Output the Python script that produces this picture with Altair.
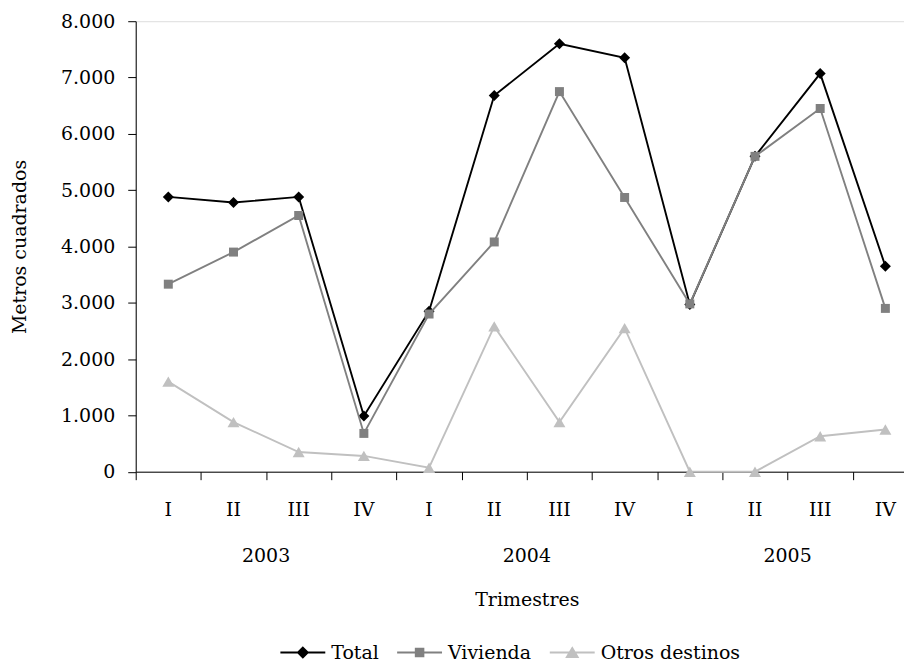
import altair as alt
import pandas as pd

# ---- data ----
years = ["2003"] * 4 + ["2004"] * 4 + ["2005"] * 4
quarters = ["I", "II", "III", "IV", "I", "II", "III", "IV", "I", "II", "III", "IV"]
total = [4880, 4780, 4880, 990, 2850, 6680, 7600, 7350, 2970, 5600, 7070, 3650]
vivienda = [3330, 3900, 4550, 680, 2800, 4080, 6750, 4870, 2980, 5600, 6450, 2900]
otros = [1600, 880, 350, 280, 70, 2580, 880, 2550, 0, 0, 630, 750]

series_names = ["Total", "Vivienda", "Otros destinos"]
series_values = [total, vivienda, otros]
series_colors = ["#000000", "#808080", "#c0c0c0"]
series_shapes = ["diamond", "square", "triangle-up"]
series_sizes = [121, 81, 144]
legend_paths = [
    "M-1,0H1M0,-0.22L0.22,0L0,0.22L-0.22,0Z",
    "M-1,0H1M-0.17,-0.17H0.17V0.17H-0.17Z",
    "M-1,0H1M0,-0.2L0.24,0.2L-0.24,0.2Z",
]

rows = []
for name, vals in zip(series_names, series_values):
    for i, v in enumerate(vals):
        rows.append({"serie": name, "i": i, "year": years[i], "quarter": quarters[i], "valor": v})
df = pd.DataFrame(rows)
cat_df = pd.DataFrame({"i": list(range(len(quarters))), "year": years, "quarter": quarters})

FONT = "DejaVu Serif"
FS = 19
W, H = 770, 451.5
BAND = 784 / 12.0
XMAX = W / BAND

x_axis = alt.Axis(
    values=list(range(12)), labels=False, grid=False, tickSize=8,
    title="Trimestres", titleX=392, titleY=128, titleAlign="center",
    titleBaseline="middle", titleAngle=0, titleFont=FONT, titleFontSize=FS,
    titleFontWeight="normal", titleColor="#000000",
    domainColor="#000000", tickColor="#000000",
)
y_axis = alt.Axis(
    values=list(range(0, 8001, 1000)), grid=False, tickSize=8, labelPadding=13,
    labelExpr="replace(format(datum.value, ','), ',', '.')",
    labelFont=FONT, labelFontSize=FS, labelColor="#000000",
    title="Metros cuadrados", titleX=-116, titleY=H / 2, titleAngle=270,
    titleAlign="center", titleBaseline="middle", titleFont=FONT, titleFontSize=FS,
    titleFontWeight="normal", titleColor="#000000",
    domainColor="#000000", tickColor="#000000",
)
x_scale = alt.Scale(domain=[0, XMAX], nice=False, zero=False)
y_scale = alt.Scale(domain=[0, 8000], nice=False)

X = alt.X("pos:Q", scale=x_scale, axis=x_axis)
Y = alt.Y("valor:Q", scale=y_scale, axis=y_axis)

base = alt.Chart(df).transform_calculate(pos="datum.i + 0.5")

layers = []
for name, color, shape, size in zip(series_names, series_colors, series_shapes, series_sizes):
    sub = base.transform_filter(alt.datum.serie == name)
    layers.append(sub.mark_line(color=color, strokeWidth=1.9).encode(x=X, y=Y))
    layers.append(
        sub.mark_point(shape=shape, filled=True, size=size, color=color, opacity=1).encode(x=X, y=Y)
    )

quarter_labels = (
    alt.Chart(cat_df)
    .transform_calculate(pos="datum.i + 0.5")
    .mark_text(font=FONT, fontSize=FS, color="#000000", baseline="middle", align="center")
    .encode(x=X, y=alt.value(489.5), text="quarter:N")
)
year_labels = (
    alt.Chart(cat_df)
    .transform_calculate(pos="datum.i + 0.5")
    .transform_aggregate(pos="mean(pos)", groupby=["year"])
    .mark_text(font=FONT, fontSize=FS, color="#000000", baseline="middle", align="center")
    .encode(x=X, y=alt.value(536.5), text="year:N")
)

leg = alt.Legend(
    orient="none", legendX=144, legendY=609, direction="horizontal", title=None,
    symbolSize=2025, symbolStrokeWidth=1.9, symbolOpacity=1,
    labelFont=FONT, labelFontSize=FS, labelColor="#000000", labelOffset=5,
    columnPadding=14, padding=0, labelLimit=0,
)
legend_layer = (
    base.transform_filter("false")
    .mark_point(filled=True, opacity=1)
    .encode(
        x=X, y=Y,
        color=alt.Color("serie:N", scale=alt.Scale(domain=series_names, range=series_colors), legend=leg),
        stroke=alt.Stroke("serie:N", scale=alt.Scale(domain=series_names, range=series_colors), legend=leg),
        shape=alt.Shape("serie:N", scale=alt.Scale(domain=series_names, range=legend_paths), legend=leg),
    )
)

chart = (
    alt.layer(*layers, quarter_labels, year_labels, legend_layer)
    .properties(
        width=W, height=H,
        autosize=alt.AutoSizeParams(type="none"),
        padding={"left": 128, "top": 12.5, "right": 0, "bottom": 196},
        background="white",
    )
    .configure_view(stroke=None)
    .configure_axis(labelFont=FONT, labelFontSize=FS, labelColor="#000000",
                    titleFont=FONT, titleFontSize=FS, titleFontWeight="normal")
    .configure_legend(labelFont=FONT, labelFontSize=FS)
    .configure_text(font=FONT)
    .configure(font=FONT)
)

chart.save("out.html", embed_options={"renderer": "svg", "actions": False})
